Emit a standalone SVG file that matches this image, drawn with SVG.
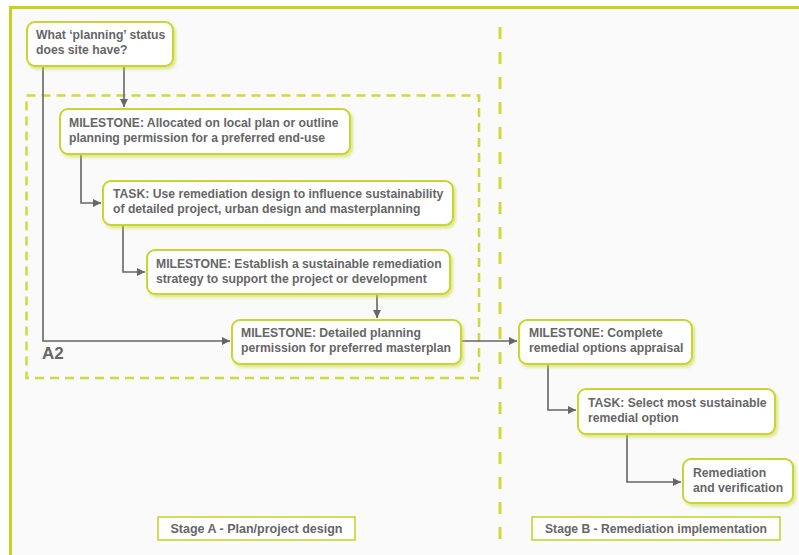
<svg xmlns="http://www.w3.org/2000/svg" width="799" height="555" viewBox="0 0 799 555">
<defs>
<style>
.node rect{fill:#ffffff;stroke:#c6d630;stroke-width:2;filter:url(#sh)}
.t{font-family:"Liberation Sans",Arial,sans-serif;font-weight:bold;font-size:12.2px;fill:#666666}
.conn path{fill:none;stroke:#666666;stroke-width:1.6}
.stage rect{fill:#ffffff;stroke:#c6d630;stroke-width:1.6}
.st{font-family:"Liberation Sans",Arial,sans-serif;font-weight:bold;font-size:12px;fill:#666666}
</style>
<filter id="sh" x="-10%" y="-20%" width="125%" height="150%">
<feDropShadow dx="2" dy="2.5" stdDeviation="1.6" flood-color="#c6d630" flood-opacity="0.55"/>
</filter>
<marker id="ar" markerUnits="userSpaceOnUse" markerWidth="9" markerHeight="8" refX="8" refY="4" orient="auto">
<path d="M0,0 L8,4 L0,8 Z" fill="#666666"/>
</marker>
</defs>
<rect x="0" y="0" width="799" height="555" fill="#ffffff"/>
<rect x="10" y="7" width="789" height="548" fill="#fafafa"/>
<line x1="10.5" y1="7.5" x2="799" y2="7.5" stroke="#c5d21f" stroke-width="3"/>
<line x1="10.5" y1="6" x2="10.5" y2="555" stroke="#c5d21f" stroke-width="3"/>

<g id="areaA2">
<rect x="26.5" y="95.5" width="452.5" height="282.5" fill="none" stroke="#cddc3a" stroke-width="2.5" stroke-dasharray="9 6"/>
<text x="42" y="359" style="font-family:'Liberation Sans',Arial,sans-serif;font-weight:bold;font-size:17px;fill:#666666">A2</text>
</g>
<g id="stageDivider">
<line x1="500" y1="27" x2="500" y2="541" stroke="#cddc3a" stroke-width="3" stroke-dasharray="12 13"/>
</g>

<g class="conn" id="connectors">
<path d="M43,66 V341 H230" marker-end="url(#ar)"/>
<path d="M124,66 V107" marker-end="url(#ar)"/>
<path d="M81,154 V203 H101" marker-end="url(#ar)"/>
<path d="M123,225 V272 H145" marker-end="url(#ar)"/>
<path d="M377,294 V318" marker-end="url(#ar)"/>
<path d="M461,341 H517" marker-end="url(#ar)"/>
<path d="M548,364 V410 H576" marker-end="url(#ar)"/>
<path d="M627,434 V482 H681" marker-end="url(#ar)"/>
</g>

<g class="node" id="n1">
<rect x="27" y="22" width="146" height="44" rx="8"/>
<text class="t" x="36" y="39">What ‘planning’ status</text>
<text class="t" x="36" y="54">does site have?</text>
</g>
<g class="node" id="n2">
<rect x="60" y="109" width="290" height="45" rx="8"/>
<text class="t" x="69" y="127">MILESTONE: Allocated on local plan or outline</text>
<text class="t" x="69" y="142">planning permission for a preferred end-use</text>
</g>
<g class="node" id="n3">
<rect x="103" y="181" width="350" height="44" rx="8"/>
<text class="t" x="113" y="198">TASK: Use remediation design to influence sustainability</text>
<text class="t" x="113" y="213">of detailed project, urban design and masterplanning</text>
</g>
<g class="node" id="n4">
<rect x="147" y="250" width="303" height="44" rx="8"/>
<text class="t" x="156" y="268">MILESTONE: Establish a sustainable remediation</text>
<text class="t" x="156" y="283">strategy to support the project or development</text>
</g>
<g class="node" id="n5">
<rect x="232" y="320" width="229" height="44" rx="8"/>
<text class="t" x="241" y="337">MILESTONE: Detailed planning</text>
<text class="t" x="241" y="352">permission for preferred masterplan</text>
</g>
<g class="node" id="n6">
<rect x="519" y="320" width="173" height="44" rx="8"/>
<text class="t" x="529" y="337">MILESTONE: Complete</text>
<text class="t" x="529" y="352">remedial options appraisal</text>
</g>
<g class="node" id="n7">
<rect x="578" y="389" width="197" height="45" rx="8"/>
<text class="t" x="588" y="407">TASK: Select most sustainable</text>
<text class="t" x="588" y="422">remedial option</text>
</g>
<g class="node" id="n8">
<rect x="683" y="459" width="110" height="44" rx="8"/>
<text class="t" x="693" y="477">Remediation</text>
<text class="t" x="693" y="492">and verification</text>
</g>

<g class="stage" id="stageA">
<rect x="158" y="517" width="197" height="23"/>
<text class="st" x="256.5" y="533" text-anchor="middle" textLength="172" lengthAdjust="spacingAndGlyphs">Stage A - Plan/project design</text>
</g>
<g class="stage" id="stageB">
<rect x="532" y="517" width="248" height="23"/>
<text class="st" x="656" y="533" text-anchor="middle" textLength="222" lengthAdjust="spacingAndGlyphs">Stage B - Remediation implementation</text>
</g>
</svg>
